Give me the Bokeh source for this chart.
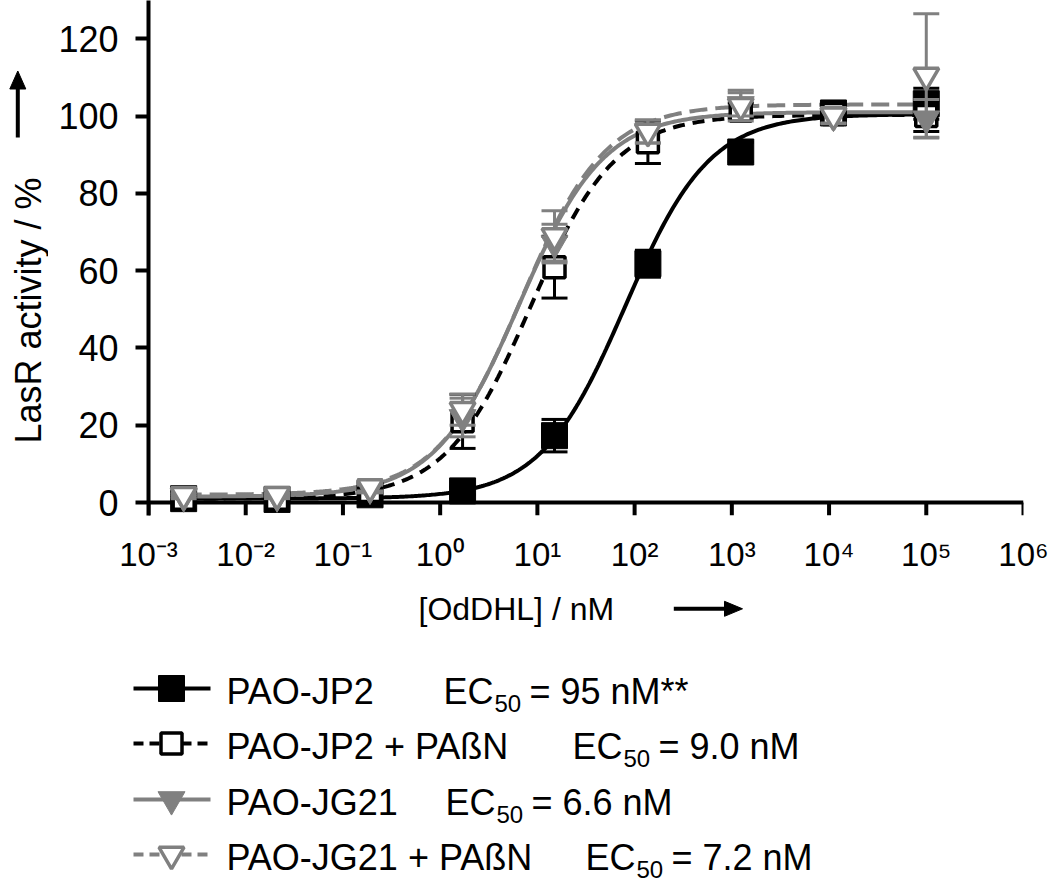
import numpy as np
from bokeh.plotting import figure
from bokeh.models import Range1d, FixedTicker
from bokeh.layouts import column, row
from bokeh.embed import file_html
from bokeh.resources import INLINE
from bokeh.core.properties import value

FONT = "Liberation Sans"
BLACK = "#000000"
GRAY = "#808080"

# ---------------- data ----------------
conc = [0.0023, 0.021, 0.19, 1.7, 15, 137, 1235, 11100, 100000]   # [OdDHL] / nM

jp2 = [1.0, 0.8, 2.0, 3.0, 17.3, 61.8, 90.7, 100.8, 103.2]
jp2_err = [0.5, 0.5, 0.5, 1.0, 4.2, 3.5, 2.5, 2.0, 4.0]

jp2_pabn = [1.0, 1.0, 3.0, 21.0, 60.9, 93.2, 101.4, 100.5, 100.0]
jp2_pabn_err = [0.5, 0.5, 1.0, 7.0, 8.0, 5.5, 2.0, 2.0, 4.0]

jg21 = [1.5, 1.5, 3.5, 22.0, 67.0, 96.0, 103.0, 100.0, 99.3]
jg21_err = [0.5, 0.5, 1.0, 5.0, 5.0, 3.0, 3.0, 2.0, 5.0]

jg21_pabn = [2.0, 2.0, 4.0, 24.0, 69.0, 96.0, 102.7, 100.2, 110.5]
jg21_pabn_err = [0.5, 0.5, 1.0, 4.0, 6.5, 3.0, 4.0, 2.0, 16.0]

# fitted dose-response curves: [bottom, top, EC50 (nM), Hill slope]
fit_jp2 = [1.0, 100.5, 80.0, 1.0]
fit_jp2_pabn = [1.0, 100.3, 8.5, 1.0]
fit_jg21 = [1.5, 101.0, 6.5, 1.0]
fit_jg21_pabn = [2.0, 103.0, 6.8, 1.0]

series_names = ["PAO-JP2", "PAO-JP2 + PAßN", "PAO-JG21", "PAO-JG21 + PAßN"]
ec50_texts = ["= 95 nM**", "= 9.0 nM", "= 6.6 nM", "= 7.2 nM"]

x_ticks = [0.001, 0.01, 0.1, 1, 10, 100, 1000, 10000, 100000, 1000000]
x_tick_labels = ["10⁻³", "10⁻²", "10⁻¹", "10⁰", "10¹", "10²", "10³", "10⁴", "10⁵", "10⁶"]
y_ticks = [0, 20, 40, 60, 80, 100, 120]

x_title = "[OdDHL] / nM"
y_title = "LasR activity / %"


def hill(x, bottom, top, ec50, h):
    return bottom + (top - bottom) / (1.0 + (ec50 / x) ** h)


styles = [
    dict(y=jp2, err=jp2_err, fit=fit_jp2, color=BLACK, dash="solid",
         marker="square", fill=BLACK, size=26, mlw=1),
    dict(y=jp2_pabn, err=jp2_pabn_err, fit=fit_jp2_pabn, color=BLACK, dash="12 8",
         marker="square", fill="white", size=21, mlw=3.5),
    dict(y=jg21, err=jg21_err, fit=fit_jg21, color=GRAY, dash="solid",
         marker="inverted_triangle", fill=GRAY, size=27, mlw=1),
    dict(y=jg21_pabn, err=jg21_pabn_err, fit=fit_jg21_pabn, color=GRAY, dash="18 8",
         marker="inverted_triangle", fill="white", size=25, mlw=3.5),
]

Y_LO, Y_HI = -3.36, 129.9
X_LO, X_HI = 0.001, 1000000

TOP_H = 575          # height of the plot row
LEFT_W = 48          # strip that carries the y title


def no_align(f):
    if "frame_align" in f.properties():
        f.frame_align = False


def panel(w, h):
    f = figure(width=w, height=h, x_range=Range1d(0, w), y_range=Range1d(0, h),
               output_backend="svg", toolbar_location=None,
               min_border=0, min_border_left=0, min_border_right=0,
               min_border_top=0, min_border_bottom=0,
               x_axis_location=None, y_axis_location=None)
    f.outline_line_color = None
    f.grid.visible = False
    no_align(f)
    return f


def shift(size_px):
    # measured offset between requested and drawn text baseline
    return 0.28 * size_px


# ---------------- main plot ----------------
p = figure(width=1050 - LEFT_W, height=TOP_H, x_axis_type="log",
           x_range=Range1d(X_LO, X_HI), y_range=Range1d(Y_LO, Y_HI),
           output_backend="svg", toolbar_location=None,
           min_border_left=148 - LEFT_W, min_border_right=27, min_border_top=0,
           min_border_bottom=60)
p.outline_line_color = None
p.grid.visible = False
no_align(p)

# x axis line + ticks at y = 0 (frame reaches a little below zero so
# markers near zero are not cut)
p.segment(x0=[X_LO], y0=[0], x1=[X_HI], y1=[0], line_color=BLACK, line_width=4)
p.segment(x0=x_ticks, y0=[0] * len(x_ticks), x1=x_ticks, y1=[Y_LO] * len(x_ticks),
          line_color=BLACK, line_width=4)

xs = np.logspace(np.log10(conc[0]), np.log10(conc[-1]), 400)
for s in styles:
    p.line(xs, hill(xs, *s["fit"]), line_color=s["color"], line_width=4,
           line_dash=s["dash"])

for s in styles:
    lower = [v - e for v, e in zip(s["y"], s["err"])]
    upper = [v + e for v, e in zip(s["y"], s["err"])]
    p.segment(x0=conc, y0=lower, x1=conc, y1=upper, line_color=s["color"], line_width=3)
    p.scatter(x=conc + conc, y=lower + upper, marker="dash", size=26,
              line_color=s["color"], line_width=3)
    p.scatter(x=conc, y=s["y"], marker=s["marker"], size=s["size"],
              fill_color=s["fill"], line_color=s["color"], line_width=s["mlw"])

xa = p.xaxis[0]
xa.ticker = FixedTicker(ticks=x_ticks)
xa.major_label_overrides = {t: l for t, l in zip(x_ticks, x_tick_labels)}
xa.axis_line_color = None
xa.major_tick_line_color = None
xa.major_tick_out = 0
xa.major_tick_in = 0
xa.minor_tick_line_color = None
xa.major_label_standoff = 20
xa.major_label_text_font_size = "33px"

ya = p.yaxis[0]
ya.ticker = FixedTicker(ticks=y_ticks)
ya.axis_line_width = 4
ya.axis_line_color = BLACK
ya.major_tick_line_width = 4
ya.major_tick_line_color = BLACK
ya.major_tick_out = 13
ya.major_tick_in = 0
ya.minor_tick_line_color = None
ya.major_label_standoff = 17
ya.major_label_text_font_size = "36px"

for ax in (xa, ya):
    ax.major_label_text_font = FONT
    ax.major_label_text_color = BLACK

# ---------------- y title strip (left) ----------------
yl = panel(LEFT_W, TOP_H)


def ly(py):
    return TOP_H - py


yl.text([38 - shift(36)], [ly(310)], text=[y_title], angle=np.pi / 2,
        text_align="center", text_baseline="alphabetic", text_font=value(FONT),
        text_font_size="36px", text_color=BLACK)
yl.segment(x0=[17.3], y0=[ly(137)], x1=[17.3], y1=[ly(86)], line_color=BLACK,
           line_width=4)
yl.patch([9.3, 25.3, 17.3], [ly(88.5), ly(88.5), ly(70.5)], fill_color=BLACK,
         line_color=BLACK, line_width=1)

# ---------------- x title + legend panel (bottom) ----------------
BOT_H = 883 - TOP_H
lg = panel(1050, BOT_H)


def by(py):
    return 883 - py


def ltext(x, base, txt, size):
    lg.text([x], [by(base - shift(size))], text=[txt], text_font=value(FONT),
            text_font_size=f"{size}px", text_baseline="alphabetic", text_color=BLACK)


ltext(418, 617, x_title, 32)
lg.segment(x0=[673.3], y0=[by(608.3)], x1=[727], y1=[by(608.3)], line_color=BLACK,
           line_width=4)
lg.patch([724, 724, 742], [by(600.8), by(615.8), by(608.3)], fill_color=BLACK,
         line_color=BLACK, line_width=1)

baselines = [701, 756, 812, 867]
ec_x = [443, 572, 445, 585]
for i, s in enumerate(styles):
    b = baselines[i]
    yc = b - 13
    lg.line([133, 210], [by(yc), by(yc)], line_color=s["color"], line_width=4,
            line_dash=("10 6" if s["dash"] != "solid" else "solid"))
    lg.scatter([171], [by(yc)], marker=s["marker"], size=s["size"],
               fill_color=s["fill"], line_color=s["color"], line_width=s["mlw"])
    ltext(226, b, series_names[i], 36)
    ltext(ec_x[i], b, "EC", 36)
    ltext(ec_x[i] + 51, b + 9, "50", 24)
    ltext(ec_x[i] + 86, b, ec50_texts[i], 36)

layout = column(row(yl, p, spacing=0), lg, spacing=0)
open("out.html", "w").write(file_html(layout, INLINE))
